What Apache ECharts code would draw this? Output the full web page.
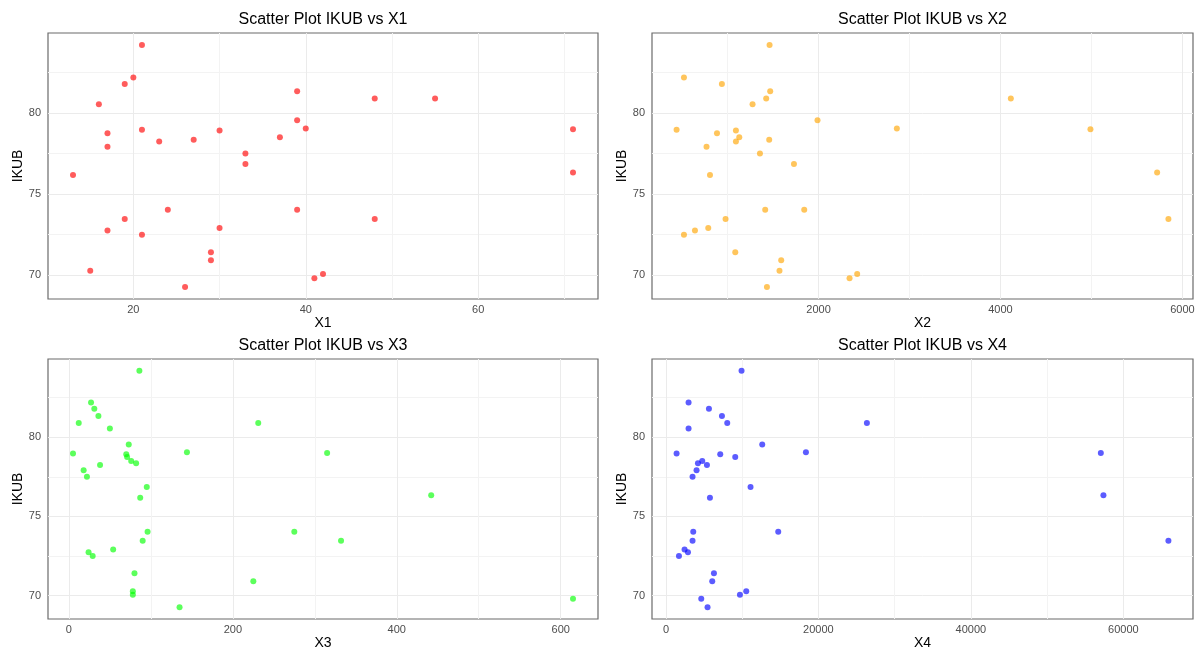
<!DOCTYPE html>
<html>
<head>
<meta charset="utf-8">
<title>Scatter Plot IKUB</title>
<script src="https://cdn.jsdelivr.net/npm/echarts@6.0.0/dist/echarts.min.js"></script>
<style>
    html, body { margin: 0; padding: 0; background: #fff; }
    #chart { width: 1196px; height: 648px; }
</style>
</head>
<body>
<div id="chart"></div>
<script>
// IKUB and the four predictors, one row per observation
var ikub = [84.2, 82.2, 81.8, 81.35, 80.9, 80.9, 80.55, 79.55, 79.05, 79.0, 78.97, 78.93, 78.75, 78.5, 78.35, 78.25, 77.92, 77.5, 76.85, 76.33, 76.17, 74.03, 74.03, 73.46, 73.46, 72.9, 72.74, 72.49, 71.4, 70.9, 70.26, 70.05, 69.8, 69.26]
var x1 = [21, 20, 19, 39, 48, 55, 16, 39, 40, 71, 21, 30, 17, 37, 27, 23, 17, 33, 33, 71, 13, 39, 24, 19, 48, 30, 17, 21, 29, 29, 15, 42, 41, 26]
var x2 = [1462, 521, 938, 1469, 1425, 4114, 1275, 1989, 2861, 4989, 440, 1092, 884, 1129, 1458, 1092, 769, 1356, 1730, 5722, 807, 1414, 1843, 978, 5846, 788, 642, 521, 1085, 1590, 1571, 2425, 2341, 1433]
var x3 = [86, 27, 31, 36, 12, 231, 50, 73, 144, 315, 5, 70, 71, 76, 82, 38, 18, 22, 95, 442, 87, 96, 275, 90, 332, 54, 24, 29, 80, 225, 78, 78, 615, 135]
var x4 = [9915, 2967, 5639, 7344, 8039, 26361, 2967, 12630, 18361, 57049, 1395, 7121, 9088, 4761, 4197, 5377, 4013, 3488, 11095, 57391, 5770, 3580, 14728, 3488, 65915, 2439, 2885, 1705, 6295, 6072, 10531, 9705, 4630, 5456]

var names = ['X1', 'X2', 'X3', 'X4']
var colors = ['rgba(255,0,0,0.8)', 'rgba(255,165,0,0.8)', 'rgba(0,255,0,0.8)', 'rgba(0,0,255,0.8)']
var majorStep = [20, 2000, 200, 20000]

var font = '"Liberation Sans", Arial, sans-serif'

// ggplot style range: data range plus 5% each side
function expand(arr) {
    var lo = Math.min.apply(null, arr)
    var hi = Math.max.apply(null, arr)
    var pad = (hi - lo) * 0.05
    return [lo - pad, hi + pad]
}

function plain(v) {
    return String(v)
}

var grids = [
    { left: 48, top: 33, width: 550, height: 266 },
    { left: 652, top: 33, width: 541, height: 266 },
    { left: 48, top: 359, width: 550, height: 260 },
    { left: 652, top: 359, width: 541, height: 260 }
]

var yRange = expand(ikub)
var xs = [x1, x2, x3, x4]

var option = {
    animation: false,
    backgroundColor: '#fff',
    title: [],
    grid: [],
    xAxis: [],
    yAxis: [],
    series: []
}

xs.forEach(function(xv, i) {
    var g = grids[i]
    var xRange = expand(xv)
    option.grid.push({
        left: g.left, top: g.top, width: g.width, height: g.height,
        outerBoundsMode: 'none',
        containLabel: false,
        show: true,
        borderColor: '#6b6b6b',
        borderWidth: 1.2,
        backgroundColor: 'transparent'
    })
    option.title.push({
        text: 'Scatter Plot IKUB vs ' + names[i],
        left: g.left + g.width / 2,
        top: g.top - 21,
        padding: 0,
        textAlign: 'center',
        textStyle: { fontFamily: font, fontSize: 16, fontWeight: 'normal', color: '#000' }
    })
    option.xAxis.push({
        type: 'value',
        gridIndex: i,
        min: xRange[0],
        max: xRange[1],
        minInterval: majorStep[i],
        maxInterval: majorStep[i],
        name: names[i],
        nameLocation: 'middle',
        nameGap: 15,
        nameTextStyle: { fontFamily: font, fontSize: 14, color: '#000' },
        axisLine: { show: false },
        axisTick: { show: false },
        axisLabel: {
            showMinLabel: false,
            showMaxLabel: false,
            hideOverlap: false,
            margin: 5,
            fontFamily: font,
            fontSize: 11,
            color: '#4d4d4d',
            formatter: plain
        },
        splitLine: { show: true, showMinLine: false, showMaxLine: false, lineStyle: { color: '#ebebeb', width: 1 } },
        minorTick: { show: false, splitNumber: 2 },
        minorSplitLine: { show: true, lineStyle: { color: '#f3f3f3', width: 1 } }
    })
    option.yAxis.push({
        type: 'value',
        gridIndex: i,
        min: yRange[0],
        max: yRange[1],
        minInterval: 5,
        maxInterval: 5,
        name: 'IKUB',
        nameLocation: 'middle',
        nameGap: 23,
        nameTextStyle: { fontFamily: font, fontSize: 14, color: '#000' },
        axisLine: { show: false },
        axisTick: { show: false },
        axisLabel: {
            showMinLabel: false,
            showMaxLabel: false,
            margin: 7,
            fontFamily: font,
            fontSize: 11,
            color: '#4d4d4d',
            formatter: plain
        },
        splitLine: { show: true, showMinLine: false, showMaxLine: false, lineStyle: { color: '#ebebeb', width: 1 } },
        minorTick: { show: false, splitNumber: 2 },
        minorSplitLine: { show: true, lineStyle: { color: '#f3f3f3', width: 1 } }
    })
    option.series.push({
        type: 'scatter',
        xAxisIndex: i,
        yAxisIndex: i,
        symbol: 'circle',
        symbolSize: 6,
        itemStyle: { color: colors[i] },
        data: xv.map(function(v, k) { return [v, ikub[k]] })
    })
})

var myChart = echarts.init(document.getElementById('chart'))
myChart.setOption(option)
</script>
</body>
</html>
